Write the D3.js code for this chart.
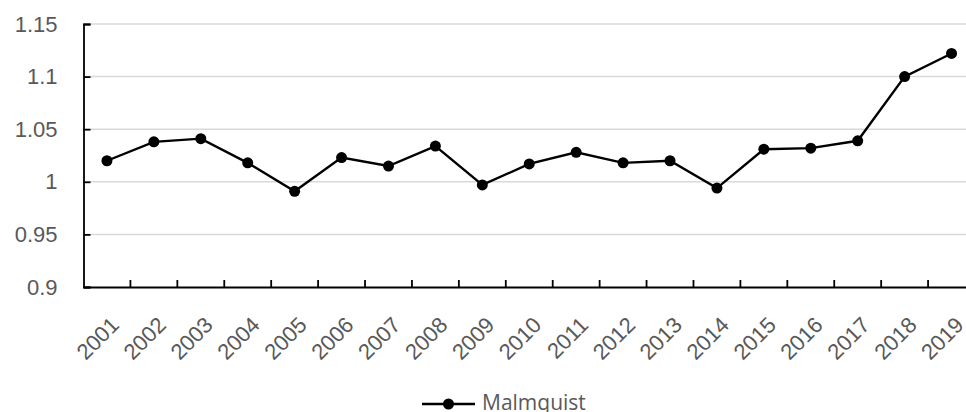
<!DOCTYPE html>
<html><head><meta charset="utf-8">
<script src="https://cdn.jsdelivr.net/npm/d3@7"></script>
<style>body{margin:0;background:#fff}svg{display:block}</style>
</head><body>
<svg id="c" width="966" height="412"></svg>
<script>
const years = ["2001","2002","2003","2004","2005","2006","2007","2008","2009","2010","2011","2012","2013","2014","2015","2016","2017","2018","2019"];
const malmquist = [1.020,1.038,1.041,1.018,0.991,1.023,1.015,1.034,0.997,1.017,1.028,1.018,1.020,0.994,1.031,1.032,1.039,1.100,1.122];
const yTicks = [0.9,0.95,1,1.05,1.1,1.15];
const seriesName = "Malmquist";

(function () {
const svg = d3.select("#c");
const pL = 83.5, pR = 975, pT = 24, pB = 287;
const x = d3.scaleBand().domain(years).range([pL, pR]);
const y = d3.scaleLinear().domain([0.9, 1.15]).range([pB, pT]);
const font = "'Liberation Sans', Arial, sans-serif";
const fs = 22;

// gridlines
svg.append("g").selectAll("line").data(yTicks.filter(d => d > 0.9)).join("line")
  .attr("x1", pL).attr("x2", 966).attr("y1", d => y(d)).attr("y2", d => y(d))
  .attr("stroke", "#d9d9d9").attr("stroke-width", 1.5);

// y axis
const ya = svg.append("g").attr("transform", `translate(${pL},0)`)
  .call(d3.axisLeft(y).tickValues(yTicks).tickSize(-7).tickPadding(26).tickFormat(d => String(+d.toFixed(2))));
ya.select(".domain").attr("stroke", "#000").attr("stroke-width", 1.8);
ya.selectAll(".tick line").attr("stroke", "#000").attr("stroke-width", 1.8);
ya.selectAll(".tick text").attr("font-family", font).attr("font-size", fs).attr("fill", "#595959");

// x axis
const xa = svg.append("g").attr("transform", `translate(0,${pB})`)
  .call(d3.axisBottom(x).tickSize(0).tickFormat(d => d));
xa.select(".domain").attr("stroke", "#000").attr("stroke-width", 1.8);
xa.selectAll(".tick text")
  .attr("font-family", font).attr("font-size", fs).attr("fill", "#595959")
  .attr("text-anchor", "end").attr("dy", "0.35em").attr("y", 0)
  .attr("transform", "translate(8,34) rotate(-45)");
// inner tick marks at band boundaries
svg.append("g").selectAll("line").data(years.slice(1)).join("line")
  .attr("x1", d => x(d)).attr("x2", d => x(d)).attr("y1", pB).attr("y2", pB - 7)
  .attr("stroke", "#000").attr("stroke-width", 1.8);

// line
const cx = d => x(d) + x.bandwidth() / 2;
svg.append("path").datum(malmquist.map((v, i) => [years[i], v]))
  .attr("fill", "none").attr("stroke", "#000").attr("stroke-width", 2.4)
  .attr("d", d3.line().x(d => cx(d[0])).y(d => y(d[1])));
svg.append("g").selectAll("circle").data(malmquist).join("circle")
  .attr("cx", (d, i) => cx(years[i])).attr("cy", d => y(d)).attr("r", 5.5).attr("fill", "#000");

// legend
const lg = svg.append("g").attr("transform", "translate(422,404)");
lg.append("line").attr("x1", 0).attr("x2", 53).attr("y1", 0).attr("y2", 0).attr("stroke", "#000").attr("stroke-width", 2.4);
lg.append("circle").attr("cx", 26.5).attr("cy", 0).attr("r", 5.5).attr("fill", "#000");
lg.append("text").attr("x", 60).attr("y", 5.5).text(seriesName)
  .attr("font-family", "'Open Sans', sans-serif").attr("font-size", 21).attr("fill", "#595959");
})();
</script>
</body></html>
